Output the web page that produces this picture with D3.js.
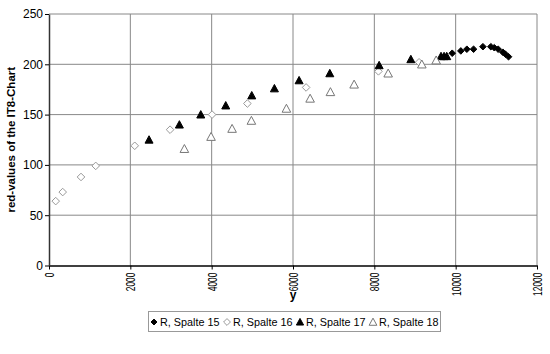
<!DOCTYPE html>
<html>
<head>
<meta charset="utf-8">
<script src="https://cdn.jsdelivr.net/npm/d3@7"></script>
<style>
  body { margin: 0; background: #fff; }
  text { font-family: Arial, "Liberation Sans", sans-serif; }
</style>
</head>
<body>
<div id="chart"></div>
<script>
// values
const s15x = [9915, 10127, 10275, 10440, 10670, 10865, 10950, 11046, 11160, 11225, 11300];
const s15y = [211, 213.3, 215, 215, 217.5, 217.5, 216.5, 215, 212, 210, 207.5];
const s16x = [165, 337, 787, 1149, 2108, 2977, 4010, 4878, 6322, 8101, 9100];
const s16y = [64, 73, 88, 99, 119, 135, 150, 161, 177, 193, 202];
const s17x = [2460, 3206, 3732, 4346, 4986, 5543, 6150, 6905, 8118, 8898, 9640, 9715, 9780];
const s17y = [125, 140, 150, 159, 169, 176, 184, 191, 199, 205, 208, 208, 208];
const s18x = [3329, 3985, 4502, 4977, 5838, 6421, 6920, 7503, 8340, 9168, 9520];
const s18y = [116, 128, 136, 144, 156, 166, 172.5, 180, 191, 200, 204];
const seriesNames = ["R, Spalte 15", "R, Spalte 16", "R, Spalte 17", "R, Spalte 18"];
const xTicks = [0, 2000, 4000, 6000, 8000, 10000, 12000];
const yTicks = [0, 50, 100, 150, 200, 250];

const width = 550, height = 354;
const margin = {top: 14, right: 13, bottom: 88.5, left: 49};

const series = [
  {name: seriesNames[0], xs: s15x, ys: s15y, shape: "diamond", fill: "#000", stroke: "#000", r: 3.3},
  {name: seriesNames[1], xs: s16x, ys: s16y, shape: "diamond", fill: "#fff", stroke: "#999", r: 3.8},
  {name: seriesNames[2], xs: s17x, ys: s17y, shape: "triangle", fill: "#000", stroke: "#000", r: 4},
  {name: seriesNames[3], xs: s18x, ys: s18y, shape: "triangle", fill: "#fff", stroke: "#777", r: 4.3}
];

function markerPath(shape, r) {
  if (shape == "diamond") return `M0,${-r}L${r},0L0,${r}L${-r},0Z`;
  return `M0,${-r}L${r},${r * 0.85}L${-r},${r * 0.85}Z`;
}

const svg = d3.select("#chart").append("svg")
  .attr("width", width)
  .attr("height", height);

const x = d3.scaleLinear().domain([0, 12000]).range([margin.left, width - margin.right]);
const y = d3.scaleLinear().domain([0, 250]).range([height - margin.bottom, margin.top]);

// grid
svg.append("g")
  .selectAll("line")
  .data(yTicks.slice(1))
  .join("line")
    .attr("x1", x(0)).attr("x2", x(12000))
    .attr("y1", d => y(d)).attr("y2", d => y(d))
    .attr("stroke", "#888").attr("stroke-width", 1);
svg.append("g")
  .selectAll("line")
  .data(xTicks.slice(1))
  .join("line")
    .attr("x1", d => x(d)).attr("x2", d => x(d))
    .attr("y1", y(0)).attr("y2", y(250))
    .attr("stroke", "#888").attr("stroke-width", 1);

// axes
const xAxis = svg.append("g")
  .attr("transform", `translate(0,${y(0)})`)
  .call(d3.axisBottom(x).tickValues(xTicks).tickSize(4).tickSizeOuter(0).tickFormat(d3.format("d")));
xAxis.select(".domain").attr("stroke", "#000").attr("stroke-width", 1.5);
xAxis.selectAll(".tick line").attr("stroke", "#000");
xAxis.selectAll(".tick text")
  .attr("font-size", 12.5)
  .attr("fill", "#000")
  .attr("transform", "rotate(-90)")
  .attr("text-anchor", "end")
  .attr("x", -7).attr("y", 0).attr("dy", "0.35em")
  .attr("textLength", d => String(d).length * 4.7)
  .attr("lengthAdjust", "spacingAndGlyphs");

const yAxis = svg.append("g")
  .attr("transform", `translate(${x(0)},0)`)
  .call(d3.axisLeft(y).tickValues(yTicks).tickSize(4).tickSizeOuter(0));
yAxis.select(".domain").attr("stroke", "#333").attr("stroke-width", 1.5);
yAxis.selectAll(".tick line").attr("stroke", "#000");
yAxis.selectAll(".tick text").attr("font-size", 12).attr("fill", "#000").attr("x", -6);

// titles
svg.append("text")
  .attr("x", (x(0) + x(12000)) / 2).attr("y", 299)
  .attr("text-anchor", "middle")
  .attr("font-size", 12).attr("font-weight", "bold")
  .text("y");
svg.append("text")
  .attr("transform", `translate(15,${(y(0) + y(250)) / 2}) rotate(-90)`)
  .attr("text-anchor", "middle")
  .attr("font-size", 11.5).attr("font-weight", "bold")
  .text("red-values of the IT8-Chart");

// points
series.forEach(s => {
  svg.append("g")
    .selectAll("path")
    .data(s.xs.map((v, i) => [v, s.ys[i]]))
    .join("path")
      .attr("transform", d => `translate(${x(d[0])},${y(d[1])})`)
      .attr("d", markerPath(s.shape, s.r))
      .attr("fill", s.fill)
      .attr("stroke", s.stroke)
      .attr("stroke-width", 1);
});

// legend
const legend = svg.append("g").attr("transform", "translate(148,311)");
legend.append("rect")
  .attr("x", 0.5).attr("y", 0.5)
  .attr("width", 292).attr("height", 20)
  .attr("fill", "#fff").attr("stroke", "#999");
const itemX = [6, 79, 152, 225];
series.forEach((s, i) => {
  const g = legend.append("g").attr("transform", `translate(${itemX[i]},11)`);
  g.append("path")
    .attr("d", markerPath(s.shape, s.r * 0.9))
    .attr("fill", s.fill).attr("stroke", s.stroke);
  g.append("text")
    .attr("x", 6).attr("dy", "0.35em")
    .attr("font-size", 10.8)
    .text(s.name);
});
</script>
</body>
</html>
